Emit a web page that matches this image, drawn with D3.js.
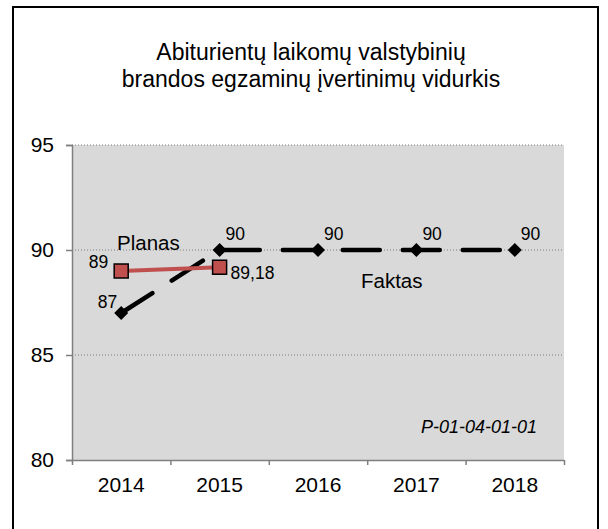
<!DOCTYPE html>
<html>
<head>
<meta charset="utf-8">
<script src="https://cdn.jsdelivr.net/npm/d3@7"></script>
<style>
  body { margin: 0; background: #fff; }
  svg text { font-family: "Liberation Sans", Arial, sans-serif; fill: #000; }
</style>
</head>
<body>
<div id="chart"></div>
<script>
// data
const years = ['2014', '2015', '2016', '2017', '2018'];
const faktas = [87, 90, 90, 90, 90];
const faktasLabels = ['87', '90', '90', '90', '90'];
const planasYears = ['2014', '2015'];
const planas = [89, 89.18];
const planasLabels = ['89', '89,18'];
const yTicks = [80, 85, 90, 95];
const titleLines = ['Abiturientų laikomų valstybinių', 'brandos egzaminų įvertinimų vidurkis'];

const W = 608, H = 529;
const margin = {top: 145, right: 44, bottom: 69, left: 72};
const width = W - margin.left - margin.right;
const height = H - margin.top - margin.bottom;

const svg = d3.select('#chart')
    .append('svg')
    .attr('width', W)
    .attr('height', H);

// outer frame
svg.append('rect')
    .attr('x', 13).attr('y', 7)
    .attr('width', 585).attr('height', 540)
    .attr('fill', 'none')
    .attr('stroke', '#000')
    .attr('stroke-width', 2);

// title
svg.append('text')
    .attr('x', 311)
    .attr('text-anchor', 'middle')
    .style('font-size', '23px')
    .selectAll('tspan')
    .data(titleLines)
    .enter()
    .append('tspan')
    .attr('x', 311)
    .attr('y', (d, i) => 60 + i * 27)
    .text(d => d);

const plot = svg.append('g')
    .attr('transform', 'translate(' + margin.left + ',' + margin.top + ')');

const x = d3.scaleBand().domain(years).range([0, width]);
const y = d3.scaleLinear().domain([80, 95]).range([height, 0]);
const cx = d => x(d) + x.bandwidth() / 2;

plot.append('rect')
    .attr('width', width)
    .attr('height', height)
    .attr('fill', '#d9d9d9');

// dotted gridlines
plot.selectAll('.grid')
    .data(yTicks.filter(t => t > 80))
    .enter()
    .append('line')
    .attr('x1', 0).attr('x2', width)
    .attr('y1', d => y(d)).attr('y2', d => y(d))
    .attr('stroke', '#7f7f7f')
    .attr('stroke-width', 1)
    .attr('stroke-dasharray', '1,2');

// y axis
const yAxis = plot.append('g')
    .call(d3.axisLeft(y).tickValues(yTicks).tickSize(6).tickPadding(12).tickFormat(d3.format('d')));
yAxis.style('font-size', '21px');

// x axis: ticks at category boundaries, labels in the middle
const xb = d3.scaleLinear().domain([0, years.length]).range([0, width]);
plot.append('g')
    .attr('transform', 'translate(0,' + height + ')')
    .call(d3.axisBottom(xb).ticks(years.length).tickSize(5).tickFormat(''))
    .call(g => g.select('.domain').remove());
const xAxis = plot.append('g')
    .attr('transform', 'translate(0,' + height + ')')
    .call(d3.axisBottom(x).tickSize(0).tickPadding(17));
xAxis.style('font-size', '21px');

plot.selectAll('.domain, .tick line')
    .attr('stroke', '#7f7f7f')
    .attr('stroke-width', 1.5);
plot.selectAll('.tick text').attr('fill', '#000');

// Faktas: black long-dash line with diamonds
const line = d3.line().x(d => cx(d.x)).y(d => y(d.y));
const faktasPts = years.map((yr, i) => ({x: yr, y: faktas[i], label: faktasLabels[i]}));
plot.append('path')
    .datum(faktasPts)
    .attr('d', line)
    .attr('fill', 'none')
    .attr('stroke', '#000')
    .attr('stroke-width', 4.5)
    .attr('stroke-linecap', 'round')
    .attr('stroke-dasharray', '37,23');

plot.selectAll('.diamond')
    .data(faktasPts)
    .enter()
    .append('path')
    .attr('d', d3.symbol().type(d3.symbolSquare).size(98))
    .attr('transform', d => 'translate(' + cx(d.x) + ',' + y(d.y) + ') rotate(45)')
    .attr('fill', '#000');

plot.selectAll('.flabel')
    .data(faktasPts)
    .enter()
    .append('text')
    .style('font-size', '17.5px')
    .attr('text-anchor', (d, i) => i === 0 ? 'end' : 'start')
    .attr('x', (d, i) => i === 0 ? cx(d.x) - 4 : cx(d.x) + 6)
    .attr('y', (d, i) => i === 0 ? y(d.y) - 5 : y(d.y) - 10)
    .text(d => d.label);

// Planas: red line with squares
const planasPts = planasYears.map((yr, i) => ({x: yr, y: planas[i], label: planasLabels[i]}));
plot.append('path')
    .datum(planasPts)
    .attr('d', line)
    .attr('fill', 'none')
    .attr('stroke', '#c0504d')
    .attr('stroke-width', 4);

plot.selectAll('.square')
    .data(planasPts)
    .enter()
    .append('rect')
    .attr('x', d => cx(d.x) - 7)
    .attr('y', d => y(d.y) - 7)
    .attr('width', 14)
    .attr('height', 14)
    .attr('fill', '#c0504d')
    .attr('stroke', '#000')
    .attr('stroke-width', 1.5);

plot.selectAll('.plabel')
    .data(planasPts)
    .enter()
    .append('text')
    .style('font-size', '17.5px')
    .attr('text-anchor', (d, i) => i === 0 ? 'end' : 'start')
    .attr('x', (d, i) => i === 0 ? cx(d.x) - 13 : cx(d.x) + 11)
    .attr('y', (d, i) => i === 0 ? y(d.y) - 3 : y(d.y) + 12)
    .text(d => d.label);

// series names and code
svg.append('text').attr('x', 117).attr('y', 250).style('font-size', '20.5px').text('Planas');
svg.append('text').attr('x', 361).attr('y', 288).style('font-size', '20.5px').text('Faktas');
svg.append('text').attr('x', 421).attr('y', 433)
    .style('font-size', '18px').style('font-style', 'italic')
    .text('P-01-04-01-01');
</script>
</body>
</html>
